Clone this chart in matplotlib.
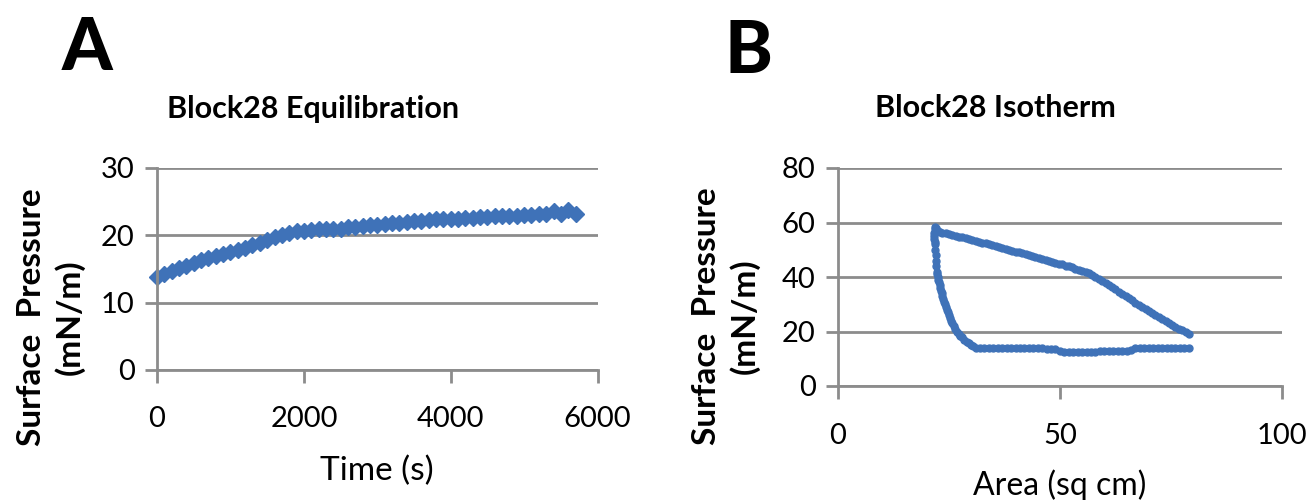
import numpy as np
import matplotlib
matplotlib.use('Agg')
import matplotlib.pyplot as plt

plt.rcParams['font.family'] = ['Lato', 'DejaVu Sans']

# panel A: equilibration, time (s) vs surface pressure (mN/m)
eq_time = [0, 100, 200, 300, 400, 500, 600, 700, 800, 900, 1000, 1100, 1200,
           1300, 1400, 1500, 1600, 1700, 1800, 1900, 2000, 2100, 2200, 2300,
           2400, 2500, 2600, 2700, 2800, 2900, 3000, 3100, 3200, 3300, 3400,
           3500, 3600, 3700, 3800, 3900, 4000, 4100, 4200, 4300, 4400, 4500,
           4600, 4700, 4800, 4900, 5000, 5100, 5200, 5300, 5400, 5500, 5600, 5700]
eq_pressure = [13.8, 14.3, 14.7, 15.1, 15.5, 15.9, 16.3, 16.6, 16.9, 17.2, 17.5,
               17.8, 18.1, 18.5, 18.9, 19.3, 19.7, 20.1, 20.4, 20.6, 20.7, 20.8,
               20.9, 20.9, 21.0, 21.0, 21.2, 21.3, 21.4, 21.5, 21.6, 21.7, 21.8,
               21.9, 22.0, 22.1, 22.2, 22.3, 22.4, 22.4, 22.5, 22.5, 22.6, 22.6,
               22.7, 22.7, 22.8, 22.8, 22.9, 22.9, 23.0, 23.0, 23.1, 23.1, 23.6,
               23.2, 23.8, 23.1]

# panel B: isotherm, compression branch then expansion branch
comp_area = [79, 78.3, 77.5, 76.8, 76, 75.3, 74.5, 73.8, 73, 72.3, 71.5, 70.8,
             70, 69.3, 68.5, 67.8, 67, 66.3, 65.5, 64.8, 64, 63.3, 62.5, 61.8,
             61, 60.3, 59.5, 58.8, 58, 57.3, 56.5, 55.8, 55, 54.3, 53.5, 52.8,
             52, 51.3, 50.5, 49.8, 49, 48.3, 47.5, 46.8, 46, 45.3, 44.5, 43.8,
             43, 42.3, 41.5, 40.8, 40, 39.3, 38.5, 37.8, 37, 36.3, 35.5, 34.8,
             34, 33.3, 32.5, 31.8, 31, 30.3, 29.5, 28.8, 28, 27.3, 26.5, 25.8,
             25, 24.3, 23.5, 23, 22.5, 22.2, 22, 21.8]
comp_pressure = [19.2, 19.8, 20.5, 21.1, 21.8, 22.5, 23.2, 23.9, 24.6, 25.3,
                 26.0, 26.8, 27.6, 28.3, 29.0, 29.8, 30.6, 31.4, 32.2, 33.0,
                 33.8, 34.6, 35.5, 36.3, 37.1, 37.9, 38.6, 39.3, 40.0, 40.7,
                 41.3, 41.8, 42.3, 42.7, 43.1, 43.5, 43.9, 44.2, 44.6, 44.9,
                 45.3, 45.6, 46.0, 46.3, 46.7, 47.0, 47.4, 47.7, 48.0, 48.4,
                 48.7, 49.0, 49.3, 49.7, 50.0, 50.3, 50.6, 51.0, 51.3, 51.7,
                 52.0, 52.3, 52.6, 53.0, 53.3, 53.6, 53.9, 54.2, 54.5, 54.8,
                 55.1, 55.4, 55.7, 56.0, 56.3, 56.6, 57.0, 57.5, 58.0, 58.5]
exp_area = [21.8, 21.7, 21.7, 21.7, 21.8, 21.8, 21.9, 22.0, 22.1, 22.2, 22.3,
            22.4, 22.5, 22.6, 22.8, 22.9, 23.1, 23.2, 23.4, 23.5, 23.7, 23.9,
            24.1, 24.3, 24.5, 24.7, 25.0, 25.2, 25.5, 25.8, 26.1, 26.4, 26.8,
            27.2, 27.6, 28.0, 28.5, 29.0, 29.5, 30.0, 30.5, 31.2, 32, 33, 34,
            35, 36, 37, 38, 39, 40, 41, 42, 43, 44, 45, 46, 47, 48, 49, 50, 51,
            52, 53, 54, 55, 56, 57, 58, 59, 60, 61, 62, 63, 64, 65, 66, 67, 68,
            69, 70, 71, 72, 73, 74, 75, 76, 77, 78, 79]
exp_pressure = [57.5, 56.0, 55.0, 54.0, 53.0, 52.0, 50.0, 48.0, 46.0, 44.0,
                42.0, 41.0, 40.0, 39.0, 38.0, 37.0, 36.0, 35.0, 34.0, 33.0,
                32.0, 31.0, 30.0, 29.0, 28.0, 27.0, 26.0, 25.0, 24.0, 23.0,
                22.0, 21.0, 20.0, 19.2, 18.5, 17.8, 17.0, 16.3, 15.6, 15.0,
                14.5, 14.1, 13.9, 13.8, 13.8, 13.8, 13.8, 13.8, 13.8, 13.8,
                13.8, 13.8, 13.8, 13.8, 13.8, 13.8, 13.8, 13.7, 13.7, 13.5,
                12.8, 12.6, 12.6, 12.6, 12.6, 12.6, 12.6, 12.6, 12.6, 12.7,
                12.7, 12.7, 12.7, 12.8, 12.8, 13.0, 13.2, 14.0, 14.0, 14.1,
                14.1, 14.1, 14.1, 14.1, 14.1, 14.1, 14.1, 14.1, 14.1, 14.0]

blue = '#3F72B8'
grid_grey = '#8C8C8C'
ylab = 'Surface  Pressure\n(mN/m)'

fig = plt.figure(figsize=(13.11, 5.0), dpi=100)
axA = fig.add_axes([0.1198, 0.26, 0.336, 0.404])
axB = fig.add_axes([0.639, 0.228, 0.339, 0.436])


def style_axes(ax, xpad):
    for side in ['top', 'right']:
        ax.spines[side].set_visible(False)
    for side in ['left', 'bottom']:
        ax.spines[side].set_color(grid_grey)
        ax.spines[side].set_linewidth(2)
    ax.grid(axis='y', color=grid_grey, linewidth=2)
    ax.set_axisbelow(True)
    ax.tick_params(axis='both', direction='out', length=9, width=2,
                   color=grid_grey, labelsize=21, labelcolor='black')
    ax.tick_params(axis='x', pad=xpad)
    ax.tick_params(axis='y', pad=7)


# panel A
axA.plot(eq_time, eq_pressure, linestyle='none', marker='D', markersize=8.5,
         color=blue, clip_on=False)
axA.set_xlim(0, 6000)
axA.set_ylim(0, 30)
axA.set_xticks([0, 2000, 4000, 6000])
axA.set_yticks([0, 10, 20, 30])
style_axes(axA, 17)
axA.set_title('Block28 Equilibration', fontsize=22, fontweight='bold', pad=36,
              x=0.354)
axA.set_xlabel('Time (s)', fontsize=24, labelpad=17)
axA.set_ylabel(ylab, fontsize=24, fontweight='bold', linespacing=1.3)
axA.yaxis.set_label_coords(-0.165, 0.26)

# panel B
axB.plot(comp_area, comp_pressure, linestyle='none', marker='o', markersize=5,
         color=blue)
axB.plot(exp_area, exp_pressure, linestyle='none', marker='o', markersize=5,
         color=blue)
axB.set_xlim(0, 100)
axB.set_ylim(0, 80)
axB.set_xticks([0, 50, 100])
axB.set_yticks([0, 20, 40, 60, 80])
style_axes(axB, 18)
axB.set_title('Block28 Isotherm', fontsize=22, fontweight='bold', pad=37,
              x=0.354)
axB.set_xlabel('Area (sq cm)', fontsize=23, labelpad=14)
axB.set_ylabel(ylab, fontsize=24, fontweight='bold', linespacing=1.3)
axB.yaxis.set_label_coords(-0.175, 0.32)

# panel letters
fig.text(0.047, 0.835, 'A', fontsize=52, fontweight='black', ha='left', va='bottom')
fig.text(0.553, 0.828, 'B', fontsize=52, fontweight='black', ha='left', va='bottom')

fig.savefig('out.png', dpi=100)
